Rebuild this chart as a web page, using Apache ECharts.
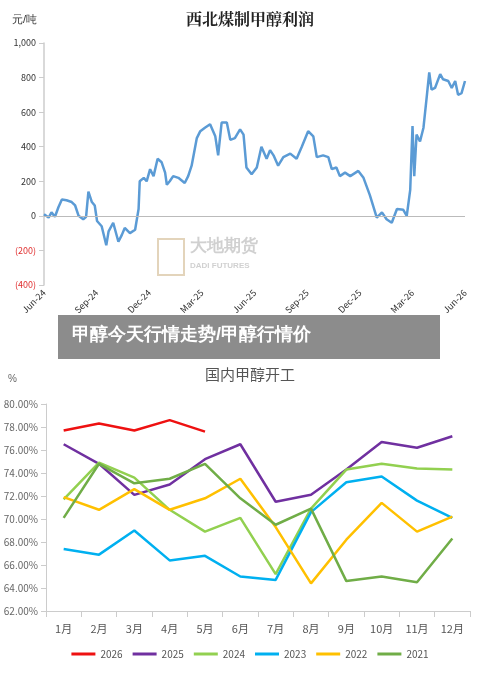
<!DOCTYPE html>
<html>
<head>
<meta charset="utf-8">
<script src="https://cdn.jsdelivr.net/npm/echarts@6/dist/echarts.min.js"></script>
<style>html,body{margin:0;padding:0;background:#fff}#main{width:500px;height:674px}</style>
</head>
<body>
<div id="main"></div>
<script>
  // 西北煤制甲醇利润 (days since Jun-24, 元/吨)
  var profitDay = [0,8,13,19,25,31,39,48,54,60,68,73,77,83,88,92,100,108,112,120,129,135,140,149,158,164,166,173,178,184,190,197,204,210,213,218,224,233,244,250,256,265,271,279,288,297,302,308,317,323,331,340,346,351,360,369,377,386,392,398,406,415,427,438,447,458,467,473,484,493,499,507,513,522,531,545,554,565,577,586,594,603,612,623,629,635,639,642,646,652,658,664,668,672,678,687,692,701,707,713,718,724,730];
  var profitVal = [10,-10,20,-5,50,95,90,80,60,0,-20,-5,140,80,60,-30,-60,-170,-90,-40,-150,-110,-70,-100,-80,40,200,220,200,270,230,330,310,250,180,200,230,220,190,230,290,450,490,510,530,460,350,540,540,440,450,500,470,280,240,280,400,330,380,350,290,340,360,330,400,490,460,340,350,340,270,280,230,250,230,260,220,120,-10,20,-20,-40,40,35,0,150,520,230,470,430,510,700,830,730,740,820,790,780,740,780,700,710,780];
  var dateLabels = ["Jun-24","Sep-24","Dec-24","Mar-25","Jun-25","Sep-25","Dec-25","Mar-26","Jun-26"];

  // 国内甲醇开工 (%)
  var months = ["1月","2月","3月","4月","5月","6月","7月","8月","9月","10月","11月","12月"];
  var rate2026 = [77.7,78.3,77.7,78.6,77.6];
  var rate2025 = [76.5,74.8,72.1,73.0,75.2,76.5,71.5,72.1,74.3,76.7,76.2,77.2];
  var rate2024 = [71.7,74.9,73.6,70.8,68.9,70.1,65.2,70.9,74.3,74.8,74.4,74.3];
  var rate2023 = [67.4,66.9,69.0,66.4,66.8,65.0,64.7,70.6,73.2,73.7,71.6,70.1];
  var rate2022 = [71.9,70.8,72.6,70.8,71.8,73.5,69.3,64.4,68.2,71.4,68.9,70.2];
  var rate2021 = [70.1,74.8,73.1,73.5,74.8,71.8,69.5,70.9,64.6,65.0,64.5,68.3];

  var years = ["2026","2025","2024","2023","2022","2021"];
  var rates = [rate2026,rate2025,rate2024,rate2023,rate2022,rate2021];
  var colors = ["#ee1111","#7030a0","#92d050","#00b0f0","#ffc000","#70ad47"];

  var profitData = profitDay.map(function(d, i) { return [d, profitVal[i]]; });

  var chart = echarts.init(document.getElementById("main"));
  var series = [{
    type: "line", xAxisIndex: 0, yAxisIndex: 0, data: profitData,
    symbol: "none", lineStyle: { color: "#5b9bd5", width: 2.5 }, itemStyle: { color: "#5b9bd5" },
    markLine: { silent: true, symbol: "none", label: { show: false },
      lineStyle: { color: "#bbb", type: "solid", width: 1.2 }, data: [{ yAxis: 0 }] }
  }];
  years.forEach(function(y, i) {
    series.push({
      name: y, type: "line", xAxisIndex: 1, yAxisIndex: 1, data: rates[i],
      symbol: "none", lineStyle: { color: colors[i], width: 2.5 }, itemStyle: { color: colors[i] }
    });
  });

  chart.setOption({
    animation: false,
    textStyle: { fontFamily: "Noto Sans CJK SC" },
    title: [
      { text: "西北煤制甲醇利润", left: "center", top: 6,
        textStyle: { fontSize: 16, fontWeight: "bold", fontFamily: "Noto Serif CJK SC, Noto Sans CJK SC", color: "#222" } },
      { text: "国内甲醇开工", left: "center", top: 362,
        textStyle: { fontSize: 15, fontWeight: "normal", color: "#555" } }
    ],
    graphic: [
      { type: "text", left: 12, top: 14, style: { text: "元/吨", fontSize: 11, fill: "#333" } },
      { type: "text", left: 8, top: 374, style: { text: "%", fontSize: 10, fill: "#666" } },
      { type: "text", left: 190, top: 238, style: { text: "大地期货", fontSize: 17, fontWeight: "bold", fill: "rgba(150,150,150,0.45)" } },
      { type: "text", left: 190, top: 262, style: { text: "DADI FUTURES", fontSize: 8, fontWeight: "bold", fill: "rgba(150,150,150,0.45)" } },
      { type: "rect", left: 157, top: 238, shape: { width: 26, height: 36 }, style: { fill: "rgba(0,0,0,0)", stroke: "rgba(200,170,120,0.5)", lineWidth: 2 } },
      { type: "rect", left: 58, top: 315, shape: { width: 382, height: 44 }, style: { fill: "rgba(120,120,120,0.85)" } },
      { type: "text", left: 72, top: 326, style: { text: "甲醇今天行情走势/甲醇行情价", fontSize: 18, fontWeight: "bold", fill: "#fff" } }
    ],
    legend: {
      data: years, bottom: 10, left: "center", itemWidth: 24, itemHeight: 3, itemGap: 10,
      icon: "rect", textStyle: { fontSize: 10, color: "#555" }
    },
    grid: [
      { left: 44, right: 35, top: 43, height: 242 },
      { left: 46, right: 30, top: 404, height: 207 }
    ],
    xAxis: [
      { type: "value", gridIndex: 0, min: 0, max: 730, interval: 91.25,
        axisLine: { show: false, onZero: false }, axisTick: { show: false }, splitLine: { show: false },
        axisLabel: { rotate: 45, fontSize: 9, color: "#333", margin: 6,
          formatter: function(v) { return dateLabels[Math.round(v / 91.25)] || ""; } } },
      { type: "category", gridIndex: 1, data: months, boundaryGap: true,
        axisLine: { lineStyle: { color: "#ccc" } }, axisTick: { show: true, length: 6, lineStyle: { color: "#ccc" } },
        axisLabel: { fontSize: 11, color: "#555", margin: 12 } }
    ],
    yAxis: [
      { type: "value", gridIndex: 0, min: -400, max: 1000, interval: 200,
        axisLine: { show: true, lineStyle: { color: "#ccc", width: 1.5 } }, splitLine: { show: false },
        axisLabel: { fontSize: 9, color: function(v) { return v < 0 ? "#e03030" : "#333"; },
          formatter: function(v) {
            var s = Math.abs(v).toLocaleString("en-US");
            return v < 0 ? "(" + s + ")" : s;
          } } },
      { type: "value", gridIndex: 1, min: 62, max: 80, interval: 2,
        axisLine: { show: true, lineStyle: { color: "#ccc" } }, axisTick: { show: true, lineStyle: { color: "#ccc" } },
        splitLine: { show: false },
        axisLabel: { fontSize: 10, color: "#666", formatter: function(v) { return v.toFixed(2) + "%"; } } }
    ],
    series: series
  });
</script>
</body>
</html>
